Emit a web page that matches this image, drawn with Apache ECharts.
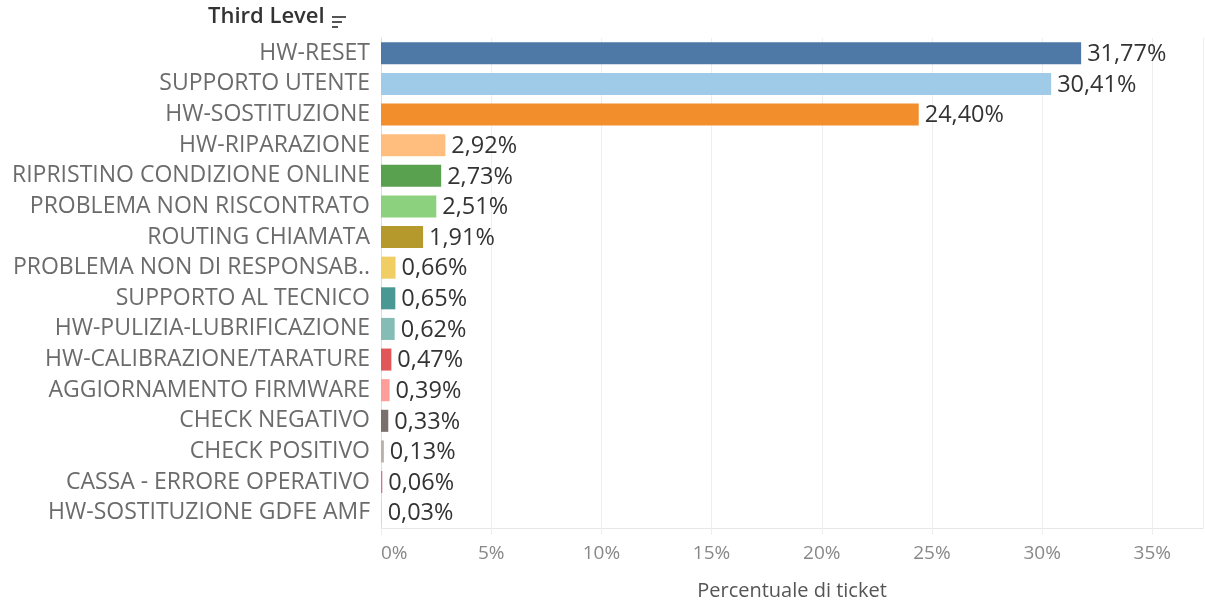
<!DOCTYPE html>
<html>
<head>
<meta charset="utf-8">
<script src="https://cdn.jsdelivr.net/npm/echarts@6/dist/echarts.min.js"></script>
<style>html,body{margin:0;padding:0;background:#fff;}#c{width:1205px;height:602px;}</style>
</head>
<body>
<div id="c"></div>
<script>
const categories = ['HW-RESET','SUPPORTO UTENTE','HW-SOSTITUZIONE','HW-RIPARAZIONE','RIPRISTINO CONDIZIONE ONLINE','PROBLEMA NON RISCONTRATO','ROUTING CHIAMATA','PROBLEMA NON DI RESPONSAB..','SUPPORTO AL TECNICO','HW-PULIZIA-LUBRIFICAZIONE','HW-CALIBRAZIONE/TARATURE','AGGIORNAMENTO FIRMWARE','CHECK NEGATIVO','CHECK POSITIVO','CASSA - ERRORE OPERATIVO','HW-SOSTITUZIONE GDFE AMF'];
const values = [31.77,30.41,24.40,2.92,2.73,2.51,1.91,0.66,0.65,0.62,0.47,0.39,0.33,0.13,0.06,0.03];
const colors = ['#4E79A7','#A0CBE8','#F28E2B','#FFBE7D','#59A14F','#8CD17D','#B6992D','#F1CE63','#499894','#86BCB6','#E15759','#FF9D9A','#79706E','#BAB0AC','#D37295','#FABFD2'];
const xTicks = [0,5,10,15,20,25,30,35];

const chart = echarts.init(document.getElementById('c'));
chart.setOption({
  animation: false,
  backgroundColor: '#fff',
  grid: {left: 381, right: 2, top: 38, bottom: 74, containLabel: false, outerBoundsMode: 'none'},
  graphic: [
    {type: 'text', left: 208, top: 6, style: {text: 'Third Level', font: '600 22px "Open Sans"', fill: '#333'}},
    {type: 'rect', shape: {x: 332, y: 16, width: 14, height: 2}, style: {fill: '#555'}},
    {type: 'rect', shape: {x: 332, y: 21, width: 10, height: 2}, style: {fill: '#555'}},
    {type: 'rect', shape: {x: 332, y: 26, width: 6, height: 2}, style: {fill: '#555'}}
  ],
  xAxis: {
    type: 'value', min: 0, max: 37.3, interval: 5,
    name: 'Percentuale di ticket', nameLocation: 'middle', nameGap: 53,
    nameTextStyle: {color: '#555', fontSize: 20, fontFamily: 'Open Sans'},
    axisLine: {show: true, lineStyle: {color: '#e6e6e6'}},
    axisTick: {show: true, length: 7, lineStyle: {color: '#eeeeee'}},
    splitLine: {show: true, lineStyle: {color: '#eeeeee'}},
    axisLabel: {
      color: '#888', fontSize: 19, fontFamily: 'Open Sans', margin: 16,
      showMaxLabel: false, alignMinLabel: 'left',
      formatter: v => xTicks.includes(v) ? v + '%' : ''
    }
  },
  yAxis: {
    type: 'category', data: categories, inverse: true,
    axisLine: {show: true, lineStyle: {color: '#dddddd'}},
    axisTick: {show: false},
    axisLabel: {color: '#6b6b6b', fontSize: 23, fontFamily: 'Open Sans', margin: 11}
  },
  series: [{
    type: 'bar',
    data: values.map((v, i) => ({value: v, itemStyle: {color: colors[i]}})),
    barCategoryGap: '28%',
    label: {
      show: true, position: 'right', distance: 6, offset: [0, 1],
      color: '#333', fontSize: 23.5, fontFamily: 'Open Sans',
      formatter: p => p.value.toFixed(2).replace('.', ',') + '%'
    }
  }]
});
</script>
</body>
</html>
